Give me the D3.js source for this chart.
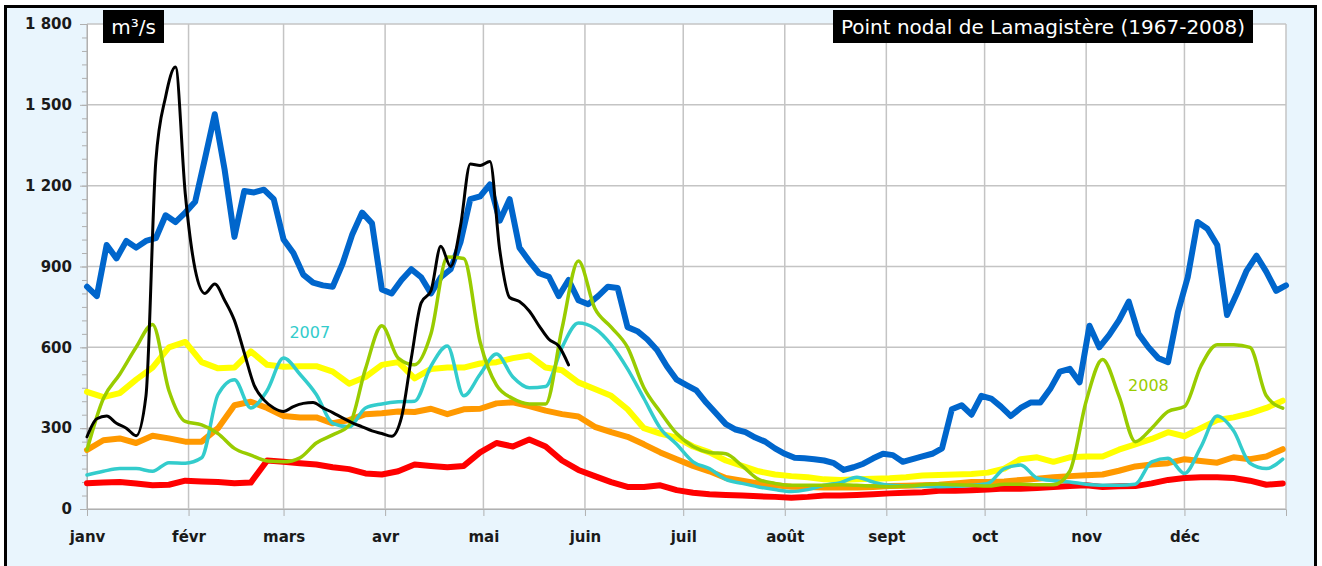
<!DOCTYPE html>
<html lang="fr">
<head>
<meta charset="utf-8">
<script src="https://d3js.org/d3.v7.min.js"></script>
<style>
    body { margin: 0; background: #fff; }
    text { font-family: "DejaVu Sans", Verdana, sans-serif; }
</style>
</head>
<body>
<div id="graph"></div>
<script>
    // month labels (French)
    var monthLabels = ["janv", "févr", "mars", "avr", "mai", "juin", "juil", "août", "sept", "oct", "nov", "déc"];
    var yTicks = [0, 300, 600, 900, 1200, 1500, 1800];

    // sampling days (day of year) for the series
    var days5 = d3.range(0, 366, 5);   // 0..365
    var days3 = d3.range(0, 367, 3);   // 0..366
    var daysBlack = d3.range(0, 148, 3); // 0..147

    // flows in m3/s
    var blueVals = [825, 790, 980, 930, 995, 970, 995, 1005, 1090, 1065, 1100, 1140, 1300, 1465, 1260, 1010,
        1180, 1175, 1185, 1150, 1000, 950, 870, 840, 830, 825, 910, 1020, 1100, 1060, 815, 800, 850, 890,
        860, 800, 860, 890, 990, 1150, 1160, 1205, 1070, 1150, 970, 920, 875, 862, 790, 850, 775, 760, 790,
        825, 820, 675, 660, 630, 590, 530, 480, 460, 440, 395, 355, 315, 295, 285, 265, 250, 225, 205, 190,
        188, 185, 180, 170, 145, 155, 168, 188, 205, 200, 175, 185, 195, 205, 225, 370, 385, 350, 420, 410,
        380, 345, 375, 395, 395, 445, 510, 520, 470, 680, 600, 645, 700, 770, 650, 600, 560, 545, 730, 860,
        1065, 1040, 980, 720, 800, 885, 940, 880, 810, 830];
    var yellowVals = [435, 415, 430, 480, 525, 600, 620, 545, 522, 525, 585, 535, 528, 530, 530, 510, 465, 490,
        535, 545, 485, 520, 525, 525, 540, 545, 560, 570, 525, 515, 470, 445, 420, 370, 300, 280, 265, 232, 210,
        180, 160, 140, 128, 122, 118, 110, 108, 110, 112, 114, 118, 124, 126, 128, 130, 135, 150, 185, 192, 175,
        192, 195, 195, 220, 240, 260, 285, 270, 300, 330, 340, 355, 375, 402];
    var orangeVals = [219, 255, 262, 245, 272, 262, 250, 250, 300, 385, 398, 375, 345, 340, 340, 318, 330, 352,
        355, 362, 360, 372, 352, 370, 372, 392, 396, 382, 365, 352, 343, 305, 285, 268, 240, 210, 185, 160, 140,
        115, 105, 95, 88, 83, 82, 80, 80, 80, 82, 85, 86, 88, 90, 95, 100, 100, 102, 108, 112, 118, 122, 125,
        128, 142, 158, 165, 170, 185, 178, 172, 192, 185, 195, 222];
    var redVals = [96, 98, 100, 95, 88, 90, 105, 102, 100, 96, 98, 180, 175, 170, 165, 155, 148, 132, 128, 140,
        165, 160, 155, 160, 210, 245, 232, 258, 232, 180, 145, 122, 100, 82, 82, 88, 70, 60, 55, 52, 50, 47, 45,
        42, 45, 50, 50, 52, 55, 58, 60, 62, 68, 68, 70, 72, 76, 75, 78, 82, 85, 88, 82, 84, 85, 95, 108, 115,
        118, 118, 115, 105, 90, 95];
    var cyan2007 = [126, 140, 150, 150, 140, 172, 170, 190, 425, 480, 375, 440, 560, 500, 425, 318, 305, 375, 390,
        398, 400, 530, 605, 420, 500, 575, 490, 450, 455, 600, 690, 670, 610, 520, 410, 300, 240, 175, 150, 110,
        95, 82, 72, 65, 72, 88, 98, 118, 100, 88, 86, 84, 83, 84, 88, 95, 150, 163, 115, 105, 100, 92, 88, 88,
        92, 175, 188, 132, 230, 345, 290, 170, 150, 185];
    var green2008 = [219, 410, 500, 600, 685, 440, 325, 312, 280, 225, 200, 178, 175, 190, 245, 275, 310, 520, 680,
        560, 535, 650, 935, 930, 620, 460, 410, 390, 390, 670, 920, 745, 675, 600, 450, 360, 280, 232, 210, 205,
        160, 110, 95, 88, 88, 88, 90, 88, 85, 83, 85, 90, 93, 90, 88, 85, 92, 92, 90, 90, 140, 400, 555, 420,
        250, 300, 362, 380, 530, 610, 610, 600, 420, 374];
    var blackVals = [268, 335, 345, 318, 300, 272, 420, 1290, 1530, 1640, 1170, 890, 800, 835, 775, 700, 580, 460,
        405, 375, 362, 380, 392, 395, 375, 358, 338, 320, 305, 290, 280, 270, 340, 560, 765, 810, 975, 900, 1050,
        1280, 1275, 1290, 960, 785, 770, 735, 680, 630, 605, 535];

    // year labels [day, value]
    var label2007 = [68, 657];
    var label2008 = [324, 460];

    var width = 1322,
        height = 566,
        plotLeft = 87,
        plotTop = 24,
        innerW = 1286 - plotLeft,
        innerH = 509 - plotTop;

    var start = new Date(2008, 0, 1);
    var toDate = d => d3.timeDay.offset(start, d);

    var series = [
        {days: days3, values: blueVals, color: "#0066cc", width: 6, curve: d3.curveLinear},
        {days: days5, values: yellowVals, color: "#ffff00", width: 6, curve: d3.curveLinear},
        {days: days5, values: orangeVals, color: "#ff9900", width: 6, curve: d3.curveLinear},
        {days: days5, values: redVals, color: "#ff0000", width: 6, curve: d3.curveLinear},
        {days: days5, values: cyan2007, color: "#33cccc", width: 3.5, curve: d3.curveMonotoneX},
        {days: days5, values: green2008, color: "#99cc00", width: 3.5, curve: d3.curveMonotoneX},
        {days: daysBlack, values: blackVals, color: "#000000", width: 3, curve: d3.curveMonotoneX}
    ];

    var svg = d3.select("#graph").append("svg")
        .attr("width", width)
        .attr("height", height);

    // light blue frame
    svg.append("rect")
        .attr("x", 5.5).attr("y", 6.5)
        .attr("width", 1310).attr("height", 600)
        .attr("fill", "#e9f5fd")
        .attr("stroke", "#000")
        .attr("stroke-width", 3);

    var g = svg.append("g").attr("transform", "translate(" + plotLeft + "," + plotTop + ")");

    g.append("rect").attr("width", innerW).attr("height", innerH).attr("fill", "#fff");

    var x = d3.scaleTime()
        .domain([start, new Date(2009, 0, 1)])
        .range([0, innerW]);

    var y = d3.scaleLinear()
        .domain([0, 1800])
        .range([innerH, 0]);

    var months = d3.timeMonth.range(start, new Date(2009, 0, 1));
    var fmt = d3.formatLocale({decimal: ",", thousands: " ", grouping: [3], currency: ["", " €"]}).format(",d");

    // grid
    g.append("g").selectAll("line")
        .data(months.concat([new Date(2009, 0, 1)]))
        .enter().append("line")
        .attr("x1", d => x(d)).attr("x2", d => x(d))
        .attr("y1", 0).attr("y2", innerH)
        .attr("stroke", "#c4c4c4").attr("stroke-width", 1.5);

    g.append("g").selectAll("line")
        .data(yTicks)
        .enter().append("line")
        .attr("x1", 0).attr("x2", innerW)
        .attr("y1", d => y(d)).attr("y2", d => y(d))
        .attr("stroke", "#c4c4c4").attr("stroke-width", 1.5);

    // y axis: minor ticks every 50
    var yMinor = g.append("g")
        .call(d3.axisLeft(y).tickValues(d3.range(0, 1801, 50)).tickSize(5).tickFormat(""));
    yMinor.select(".domain").remove();
    yMinor.selectAll("line").attr("stroke", "#b0b0b0");

    var yAxis = g.append("g")
        .call(d3.axisLeft(y).tickValues(yTicks).tickSize(7).tickFormat(fmt));
    yAxis.select(".domain").attr("stroke", "#b0b0b0");
    yAxis.selectAll("line").attr("stroke", "#b0b0b0");
    yAxis.selectAll("text")
        .attr("x", -15)
        .style("font-size", "15px")
        .style("font-weight", "bold")
        .attr("fill", "#1a1a1a");

    var xAxis = g.append("g")
        .attr("transform", "translate(0," + innerH + ")")
        .call(d3.axisBottom(x).tickValues(months).tickSize(7).tickFormat(d => monthLabels[d.getMonth()]));
    xAxis.select(".domain").attr("stroke", "#b0b0b0");
    xAxis.selectAll("line").attr("stroke", "#b0b0b0");
    xAxis.selectAll("text")
        .attr("y", 22)
        .style("font-size", "15px")
        .style("font-weight", "bold")
        .attr("fill", "#1a1a1a");

    // lines
    g.append("g").selectAll("path")
        .data(series)
        .enter().append("path")
        .attr("fill", "none")
        .attr("stroke", d => d.color)
        .attr("stroke-width", d => d.width)
        .attr("stroke-linejoin", "round")
        .attr("stroke-linecap", "round")
        .attr("d", d => d3.line()
            .x(p => x(p[0]))
            .y(p => y(p[1]))
            .curve(d.curve)(d.values.map((v, i) => [toDate(d.days[i]), v])));

    // year labels
    g.append("text")
        .attr("x", x(toDate(label2007[0]))).attr("y", y(label2007[1]))
        .attr("text-anchor", "middle").attr("dy", "0.35em")
        .style("font-size", "16px").attr("fill", "#33cccc")
        .text("2007");
    g.append("text")
        .attr("x", x(toDate(label2008[0]))).attr("y", y(label2008[1]))
        .attr("text-anchor", "middle").attr("dy", "0.35em")
        .style("font-size", "16px").attr("fill", "#99cc00")
        .text("2008");

    // title boxes
    svg.append("rect").attr("x", 103).attr("y", 10).attr("width", 61).attr("height", 33).attr("fill", "#000");
    svg.append("text").attr("x", 133.5).attr("y", 26.5).attr("dy", "0.35em")
        .attr("text-anchor", "middle").attr("fill", "#fff").style("font-size", "20px")
        .text("m³/s");

    svg.append("rect").attr("x", 833).attr("y", 10).attr("width", 420).attr("height", 33).attr("fill", "#000");
    svg.append("text").attr("x", 1043).attr("y", 26.5).attr("dy", "0.35em")
        .attr("text-anchor", "middle").attr("fill", "#fff").style("font-size", "20px")
        .text("Point nodal de Lamagistère (1967-2008)");
</script>
</body>
</html>
